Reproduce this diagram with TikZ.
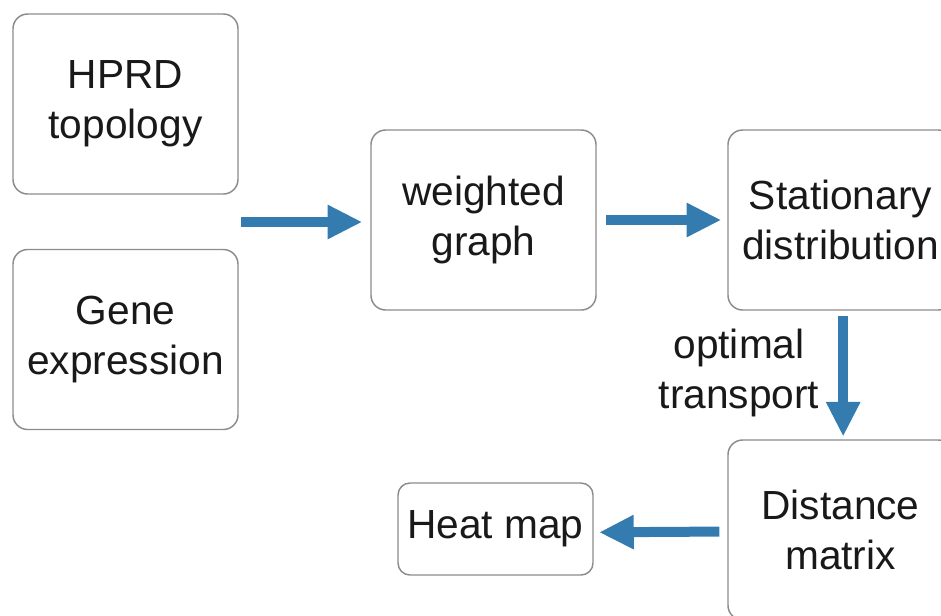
\documentclass[tikz,border=0pt]{standalone}
\usepackage{fontspec}
\setmainfont{Liberation Sans}
\usetikzlibrary{arrows.meta}

\definecolor{flowblue}{RGB}{52,124,176}
\definecolor{boxgrey}{RGB}{140,140,140}
\definecolor{inkgrey}{RGB}{25,25,25}

\tikzset{
  stage/.style={draw=boxgrey, line width=1.1pt, rounded corners=11pt, fill=white,
    minimum width=168.75pt, minimum height=135pt, inner sep=0pt, align=center,
    text=inkgrey, font=\fontsize{30.5}{37.5}\selectfont},
  flow/.style={draw=flowblue, line width=7.5pt, -{Triangle[length=26pt,width=24pt]}}
}

\begin{document}
\begin{tikzpicture}[x=0.75pt,y=0.75pt,yscale=-1,xscale=1]
\useasboundingbox (0,0) rectangle (941,615);
\clip (0,0) rectangle (941,615);

% input boxes
\node [stage] (hprd) at (125.5,104) {HPRD\\topology};
\node [stage] (gene) at (125.5,339.5) {Gene\\expression};

% processing boxes
\node [stage] (wgraph) at (483.5,220) {weighted\\graph};
\node [stage] (stat) at (840.5,220) {Stationary\\distribution};
\node [stage] (dist) at (840.5,530) {Distance\\matrix};
\node [stage, minimum width=146.25pt, minimum height=69pt, rounded corners=9pt] (heat) at (495.5,529) {Heat map};

% arrows
\coordinate (merge) at (241,222);
\draw [flow, shorten >=6pt] (merge) -- (wgraph.west |- merge);
\draw [flow, shorten <=7pt, shorten >=4.5pt] (wgraph.east) -- (stat.west);
\draw [flow, shorten <=4pt, shorten >=2pt] ([xshift=2pt]stat.south) -- ([xshift=2pt]stat.south |- dist.north);
\draw [flow, shorten <=6pt, shorten >=4pt] (dist.west |- heat.east) ++(0,2.5) -- ([yshift=2.5]heat.east);

% Text Node
\node [align=center, text=inkgrey, font=\fontsize{30.5}{37.5}\selectfont] (otlabel) at (739,373) {optimal\\transport};

\end{tikzpicture}
\end{document}
